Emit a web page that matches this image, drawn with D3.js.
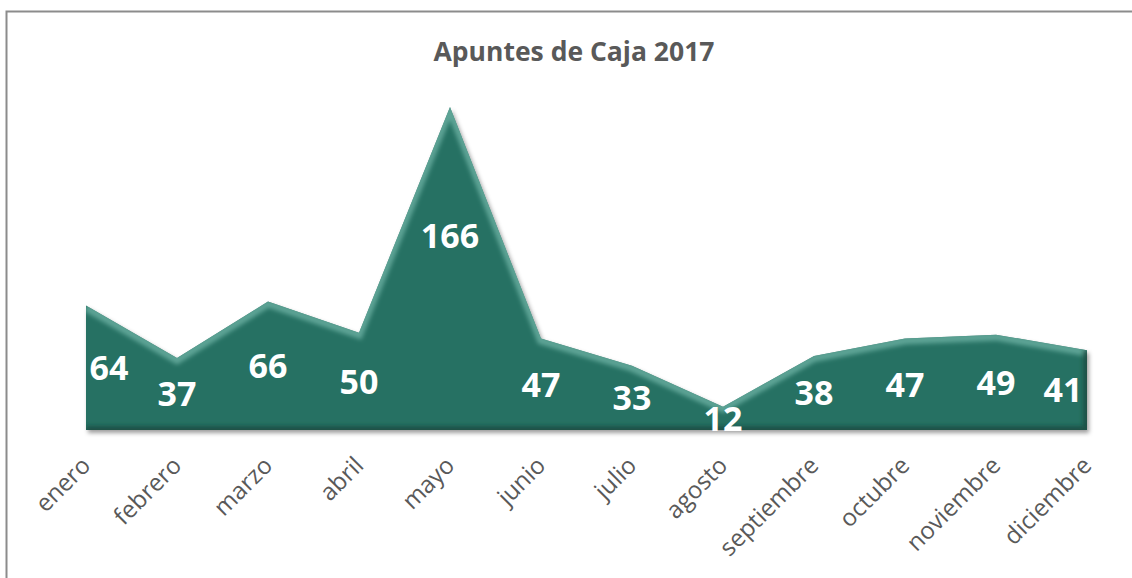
<!DOCTYPE html>
<html lang="es">
<head>
<meta charset="utf-8">
<title>Apuntes de Caja 2017</title>
<script src="https://cdn.jsdelivr.net/npm/d3@7"></script>
<style>
  html, body { margin: 0; padding: 0; background: #ffffff; }
  svg { display: block; }
</style>
</head>
<body>
<svg id="chart" width="1132" height="578"></svg>
<script>
// Monthly cash entries, 2017
const months = ["enero", "febrero", "marzo", "abril", "mayo", "junio",
                "julio", "agosto", "septiembre", "octubre", "noviembre", "diciembre"];
const entries = [64, 37, 66, 50, 166, 47, 33, 12, 38, 47, 49, 41];
const chartTitle = "Apuntes de Caja 2017";

const W = 1132, H = 578;
const svg = d3.select("#chart");
const defs = svg.append("defs");

// Outer frame of the chart area
svg.append("rect")
  .attr("x", 6.5).attr("y", 11.5)
  .attr("width", W + 20).attr("height", H + 20)
  .attr("fill", "none")
  .attr("stroke", "#8c8c8c")
  .attr("stroke-width", 2);

// Title
svg.append("text")
  .attr("x", 574).attr("y", 61)
  .attr("text-anchor", "middle")
  .attr("font-family", "'Open Sans', sans-serif")
  .attr("font-weight", 700)
  .attr("font-size", 26.5)
  .attr("fill", "#595959")
  .text(chartTitle);

// Scales
const x = d3.scalePoint().domain(months).range([86, 1087]);
const y = d3.scaleLinear().domain([0, 166]).range([430, 107]);

const area = d3.area()
  .x((d, i) => x(months[i]))
  .y0(y(0))
  .y1(d => y(d));
const topLine = d3.line()
  .x((d, i) => x(months[i]))
  .y(d => y(d));

// Filters: drop shadow and soft edge blur
const shadow = defs.append("filter").attr("id", "shadow")
  .attr("x", "-5%").attr("y", "-5%").attr("width", "110%").attr("height", "115%");
shadow.append("feDropShadow")
  .attr("dx", 2).attr("dy", 3).attr("stdDeviation", 2.2)
  .attr("flood-color", "#000").attr("flood-opacity", 0.38);

const soft = defs.append("filter").attr("id", "soft")
  .attr("x", "-5%").attr("y", "-5%").attr("width", "110%").attr("height", "115%");
soft.append("feGaussianBlur").attr("stdDeviation", 2.2);

defs.append("clipPath").attr("id", "areaClip")
  .append("path").attr("d", area(entries));

// Filled area
svg.append("path")
  .attr("d", area(entries))
  .attr("fill", "#287163")
  .attr("filter", "url(#shadow)");

// Bevel: light rim along the top edge, darker rim along the base and right side
const bevel = svg.append("g").attr("clip-path", "url(#areaClip)");
bevel.append("path")
  .attr("d", topLine(entries))
  .attr("transform", "translate(0,2)")
  .attr("fill", "none")
  .attr("stroke", "#6cb0a2")
  .attr("stroke-width", 8)
  .attr("stroke-opacity", 0.8)
  .attr("filter", "url(#soft)");
bevel.append("path")
  .attr("d", `M${x(months[0])},${y(entries[0])}L${x(months[0])},${y(0)}`)
  .attr("fill", "none")
  .attr("stroke", "#4b9485")
  .attr("stroke-width", 8)
  .attr("stroke-opacity", 0.7)
  .attr("filter", "url(#soft)");
const last = months.length - 1;
bevel.append("path")
  .attr("d", `M${x(months[0])},${y(0)}L${x(months[last])},${y(0)}L${x(months[last])},${y(entries[last])}`)
  .attr("fill", "none")
  .attr("stroke", "#17483f")
  .attr("stroke-width", 8)
  .attr("stroke-opacity", 0.75)
  .attr("filter", "url(#soft)");

// Value labels, centred vertically in the area at each month
const maxVal = d3.max(entries);
svg.append("g")
  .selectAll("text")
  .data(entries)
  .join("text")
  .attr("x", (d, i) => {
    const px = x(months[i]);
    if (i === 0) return px + 23;
    if (i === last) return px - 24;
    return px;
  })
  .attr("y", d => y(d === maxVal ? d * 0.6 : d / 2))
  .attr("dy", "0.36em")
  .attr("text-anchor", "middle")
  .attr("font-family", "'Open Sans', sans-serif")
  .attr("font-weight", 700)
  .attr("font-size", 34)
  .attr("fill", "#ffffff")
  .text(d => d);

// Category axis labels, rotated
svg.append("g")
  .selectAll("text")
  .data(months)
  .join("text")
  .attr("transform", d => `translate(${x(d) + 6},${467}) rotate(-45)`)
  .attr("text-anchor", "end")
  .attr("font-family", "'Open Sans', sans-serif")
  .attr("font-size", 24)
  .attr("fill", "#595959")
  .text(d => d);
</script>
</body>
</html>
